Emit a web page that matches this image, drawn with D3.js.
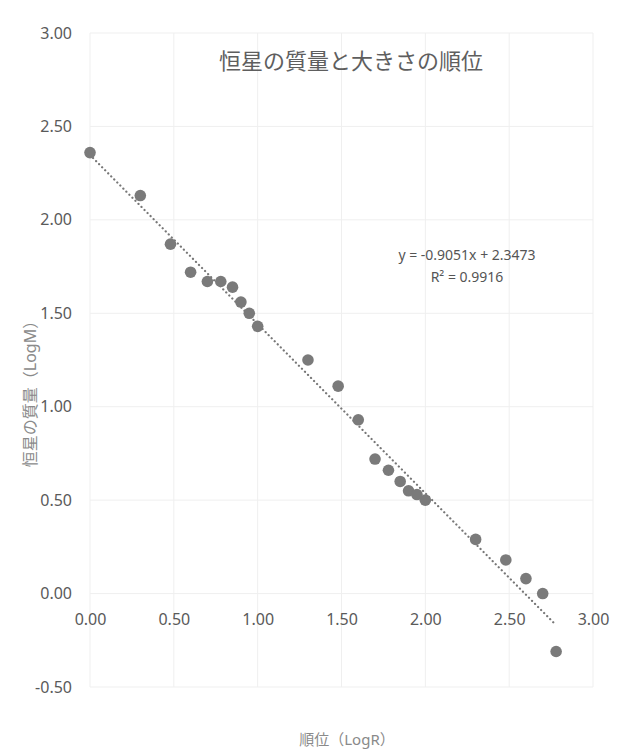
<!DOCTYPE html>
<html>
<head>
<meta charset="utf-8">
<script src="https://cdn.jsdelivr.net/npm/d3@7"></script>
<style>
  body { margin: 0; background: #fff; }
  text { font-family: "Noto Sans", "Noto Sans CJK JP", sans-serif; }
</style>
</head>
<body>
<script>
//------------ DATA ----------------------
// log of rank
const logR = [0.00, 0.30, 0.48, 0.60, 0.70, 0.78, 0.85, 0.90, 0.95, 1.00,
              1.30, 1.48, 1.60, 1.70, 1.78, 1.85, 1.90, 1.95, 2.00,
              2.30, 2.48, 2.60, 2.70, 2.78];
// log of mass
const logM = [2.36, 2.13, 1.87, 1.72, 1.67, 1.67, 1.64, 1.56, 1.50, 1.43,
              1.25, 1.11, 0.93, 0.72, 0.66, 0.60, 0.55, 0.53, 0.50,
              0.29, 0.18, 0.08, 0.00, -0.31];
const xTicks = [0, 0.5, 1, 1.5, 2, 2.5, 3];
const yTicks = [-0.5, 0, 0.5, 1, 1.5, 2, 2.5, 3];
const slope = -0.9051, intercept = 2.3473;
const eqLines = ["y = -0.9051x + 2.3473", "R² = 0.9916"];
const titleText = "恒星の質量と大きさの順位";
const xTitle = "順位（LogR）";
const yTitle = "恒星の質量（LogM）";
//----------------------------------------

const width = 624, height = 756;

var svg = d3.select("body").append("svg")
    .attr("width", width)
    .attr("height", height);

var x = d3.scaleLinear().domain([0, 3]).range([90, 593]);
var y = d3.scaleLinear().domain([-0.5, 3]).range([687, 33]);

// tick labels use a plain hyphen for negatives
var fmt = d => d.toFixed(2);

// faint gridlines
svg.append("g").selectAll("line").data(yTicks).join("line")
    .attr("x1", x(0)).attr("x2", x(3))
    .attr("y1", d => y(d)).attr("y2", d => y(d))
    .attr("stroke", "#efefef").attr("stroke-width", 1);
svg.append("g").selectAll("line").data(xTicks).join("line")
    .attr("x1", d => x(d)).attr("x2", d => x(d))
    .attr("y1", y(3)).attr("y2", y(-0.5))
    .attr("stroke", "#efefef").attr("stroke-width", 1);

// y axis labels (left)
var yAxis = svg.append("g")
    .attr("transform", "translate(" + (x(0) - 18) + ",0)")
    .call(d3.axisLeft(y).tickValues(yTicks).tickFormat(fmt).tickSize(0));
yAxis.select(".domain").remove();
yAxis.selectAll("text")
    .attr("x", 0)
    .style("font-size", "16px")
    .attr("fill", "#5a5a5a");

// x axis labels sit below the y=0 line
var xAxis = svg.append("g")
    .attr("transform", "translate(0," + y(0) + ")")
    .call(d3.axisBottom(x).tickValues(xTicks).tickFormat(fmt).tickSize(0));
xAxis.select(".domain").remove();
xAxis.selectAll("text")
    .attr("y", 20)
    .style("font-size", "16px")
    .attr("fill", "#5a5a5a");

// trendline (round dots)
var xMax = d3.max(logR);
svg.append("line")
    .attr("x1", x(0)).attr("y1", y(intercept))
    .attr("x2", x(xMax)).attr("y2", y(slope * xMax + intercept))
    .attr("stroke", "#777")
    .attr("stroke-width", 2.2)
    .attr("stroke-dasharray", "0.1,4.2")
    .attr("stroke-linecap", "round");

// points
svg.append("g").selectAll("circle").data(logR).join("circle")
    .attr("cx", d => x(d))
    .attr("cy", (d, i) => y(logM[i]))
    .attr("r", 5.8)
    .attr("fill", "#7a7a7a");

// title
svg.append("text")
    .attr("x", 351).attr("y", 69)
    .attr("text-anchor", "middle")
    .style("font-size", "22px")
    .attr("fill", "#5e5e5e")
    .text(titleText);

// equation label
svg.append("g").selectAll("text").data(eqLines).join("text")
    .attr("x", 467)
    .attr("y", (d, i) => 260 + i * 22)
    .attr("text-anchor", "middle")
    .style("font-size", "14px")
    .attr("fill", "#555")
    .text(d => d);

// axis titles
svg.append("text")
    .attr("x", 347).attr("y", 745)
    .attr("text-anchor", "middle")
    .style("font-size", "15px")
    .attr("fill", "#8a8a8a")
    .text(xTitle);

svg.append("text")
    .attr("transform", "translate(36,390) rotate(-90)")
    .attr("text-anchor", "middle")
    .style("font-size", "16px")
    .attr("fill", "#8a8a8a")
    .text(yTitle);
</script>
</body>
</html>
